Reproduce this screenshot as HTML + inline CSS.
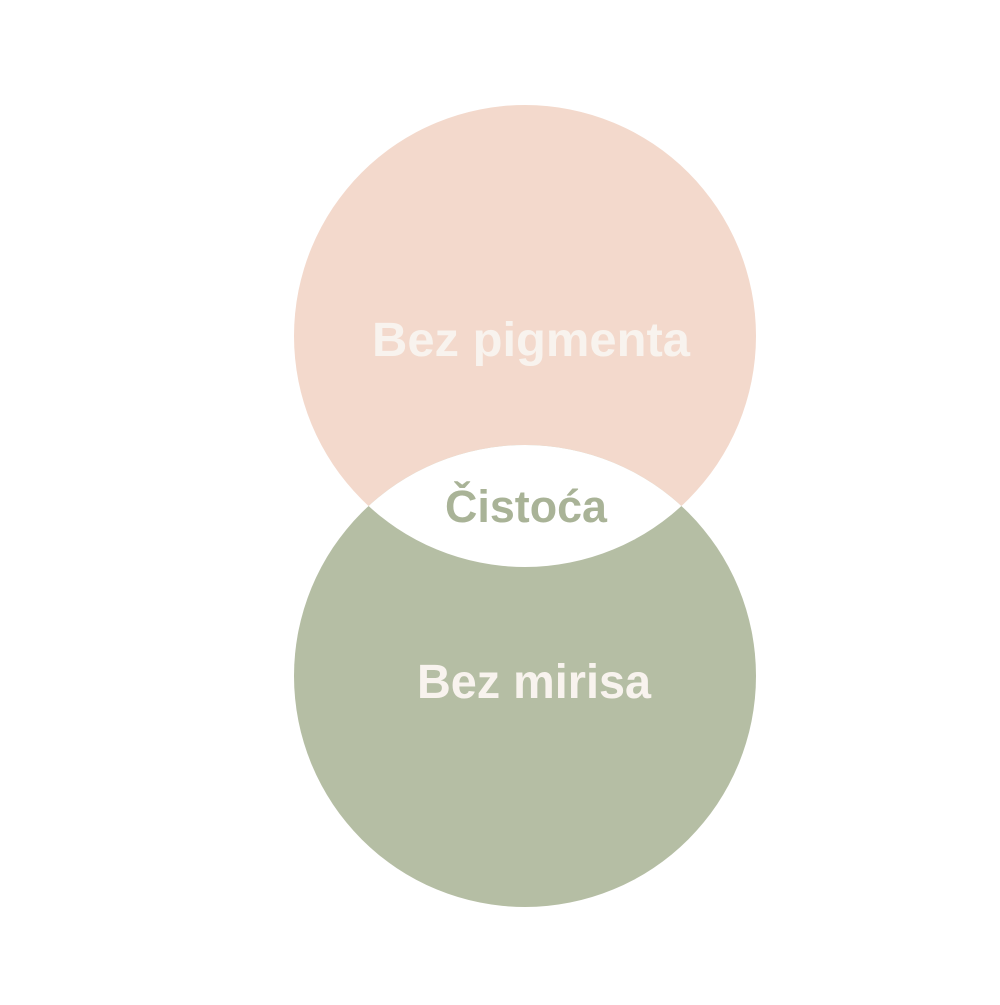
<!DOCTYPE html>
<html><head><meta charset="utf-8"><style>html,body{margin:0;padding:0;background:#fff}</style></head>
<body>
<svg width="1000" height="1000" viewBox="0 0 1000 1000" xmlns="http://www.w3.org/2000/svg">
<defs><clipPath id="c"><circle cx="525" cy="336" r="231"/></clipPath></defs>
<rect width="1000" height="1000" fill="#ffffff"/>
<circle cx="525" cy="336" r="231" fill="#f3d9cc"/>
<circle cx="525" cy="676" r="231" fill="#b5bea4"/>
<circle cx="525" cy="676" r="231" fill="#ffffff" clip-path="url(#c)"/>
<g font-family="Liberation Sans, sans-serif" font-weight="bold">
<text x="372" y="356" font-size="48" fill="#f8f3ee" textLength="318" lengthAdjust="spacingAndGlyphs">Bez pigmenta</text>
<text x="445" y="522" font-size="45" fill="#a9b397" textLength="162" lengthAdjust="spacingAndGlyphs">Čistoća</text>
<text x="417" y="698" font-size="48" fill="#f8f3ee" textLength="234" lengthAdjust="spacingAndGlyphs">Bez mirisa</text>
</g>
</svg>
</body></html>
